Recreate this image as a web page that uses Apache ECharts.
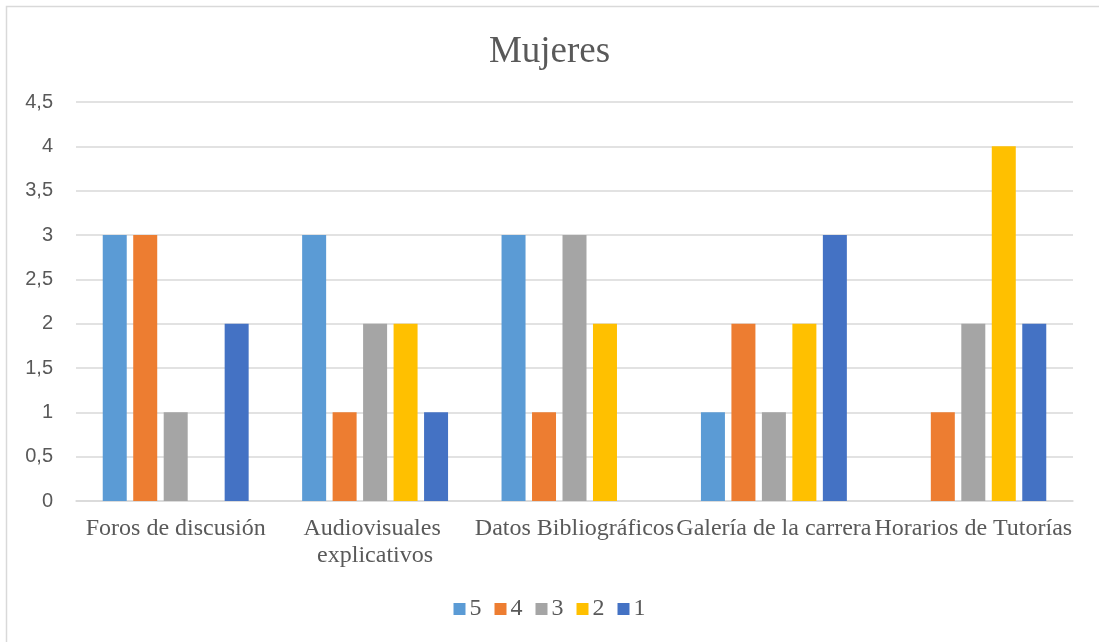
<!DOCTYPE html>
<html>
<head>
<meta charset="utf-8">
<script src="https://cdn.jsdelivr.net/npm/echarts@6/dist/echarts.min.js"></script>
<style>
  html, body { margin: 0; padding: 0; background: #ffffff; }
  #chart { width: 1099px; height: 642px; }
</style>
</head>
<body>
<div id="chart"></div>
<script>
// Categories of the survey items
const categories = [
  'Foros de discusión',
  'Audiovisuales explicativos',
  'Datos Bibliográficos',
  'Galería de la carrera',
  'Horarios de Tutorías'
];

// Number of responses per rating (5 = highest, 1 = lowest)
const rating5 = [3, 3, 3, 1, 0];
const rating4 = [3, 1, 1, 2, 1];
const rating3 = [1, 2, 3, 1, 2];
const rating2 = [0, 2, 2, 2, 4];
const rating1 = [2, 1, 0, 3, 2];

const seriesNames = ['5', '4', '3', '2', '1'];
const seriesValues = [rating5, rating4, rating3, rating2, rating1];
const seriesColors = ['#5B9BD5', '#ED7D31', '#A5A5A5', '#FFC000', '#4472C4'];

const serif = '"Liberation Serif", "DejaVu Serif", serif';
const sans = '"Liberation Sans", "Open Sans", sans-serif';
const textColor = '#595959';

const chart = echarts.init(document.getElementById('chart'));

chart.setOption({
  animation: false,
  backgroundColor: '#ffffff',
  color: seriesColors,
  title: {
    text: 'Mujeres',
    left: 'center',
    top: 29,
    textStyle: { fontFamily: serif, fontSize: 37, fontWeight: 'normal', color: textColor }
  },
  graphic: [{
    type: 'rect',
    shape: { x: 6.5, y: 6.5, width: 1200, height: 800 },
    style: { fill: 'none', stroke: '#d9d9d9', lineWidth: 1.5 },
    silent: true
  }],
  legend: {
    bottom: 16,
    left: 'center',
    itemWidth: 12,
    itemHeight: 12,
    itemGap: 13,
    icon: 'rect',
    textStyle: { fontFamily: serif, fontSize: 24, color: textColor, padding: [0, 0, 0, -1] },
    data: seriesNames
  },
  grid: { left: 76, right: 26, top: 102, bottom: 141, containLabel: false },
  xAxis: {
    type: 'category',
    data: categories,
    axisLine: { lineStyle: { color: '#d9d9d9', width: 1.5 } },
    axisTick: { show: false },
    axisLabel: {
      interval: 0,
      margin: 14,
      fontFamily: serif,
      fontSize: 24,
      lineHeight: 27,
      color: textColor,
      width: 225,
      overflow: 'break'
    }
  },
  yAxis: {
    type: 'value',
    min: 0,
    max: 4.5,
    interval: 0.5,
    axisLine: { show: false },
    axisTick: { show: false },
    splitLine: { lineStyle: { color: '#d9d9d9', width: 1.5 } },
    axisLabel: {
      margin: 23,
      fontFamily: sans,
      fontSize: 20,
      color: textColor,
      formatter: v => String(v).replace('.', ',')
    }
  },
  series: seriesNames.map((name, i) => ({
    name: name,
    type: 'bar',
    data: seriesValues[i],
    barWidth: 24,
    barGap: '27%',
    itemStyle: { color: seriesColors[i] }
  }))
});
</script>
</body>
</html>
